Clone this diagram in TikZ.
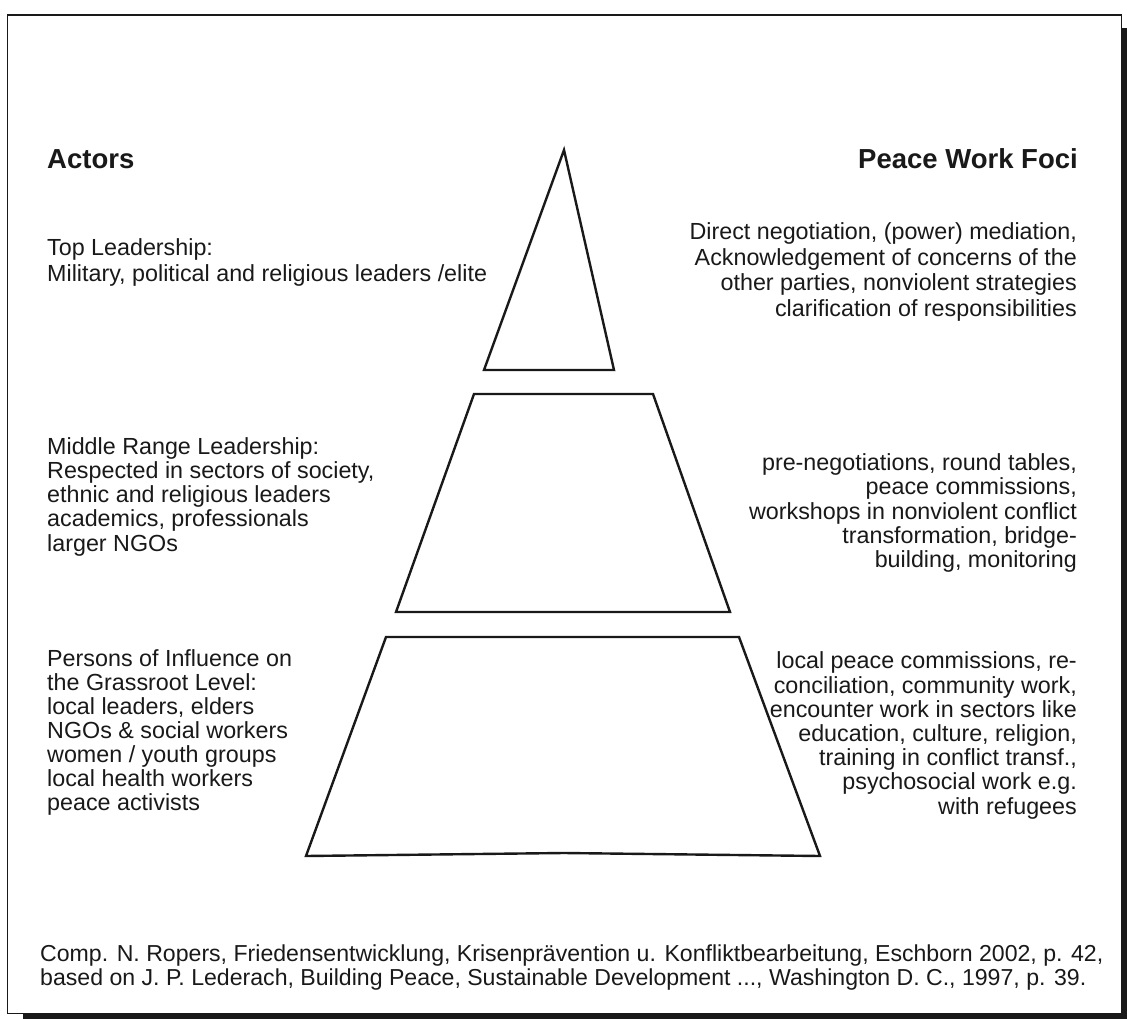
\documentclass[tikz,border=0pt]{standalone}
\usepackage{fontspec}
\setmainfont{Liberation Sans}
\begin{document}
\begin{tikzpicture}[x=1pt,y=-1pt]
  \tikzstyle{layer}=[draw=black!90,line width=2.4pt,line join=miter]
  \tikzstyle{heading}=[inner sep=0pt,text=black!90,font=\fontsize{27.5}{30}\selectfont\bfseries]
  \tikzstyle{actor}=[inner sep=0pt,anchor=base west,align=left,text=black!90,font=\fontsize{23.3}{24.2}\selectfont]
  \tikzstyle{focus}=[inner sep=0pt,anchor=base east,align=right,text=black!90,font=\fontsize{23.3}{24.2}\selectfont]
  \useasboundingbox (0,0) rectangle (1127,1019);
  \fill[black!90] (23,28) rectangle (1127,1019);
  \draw[fill=white,draw=black!90,line width=1.7pt] (7.5,15) rectangle (1121.5,1013.5);

  \draw[layer] (564,150) -- (614,370) -- (484,370) -- cycle;
  \draw[layer] (474,394) -- (653,394) -- (730,612) -- (396,612) -- cycle;
  \draw[layer] (386,637) -- (739,637) -- (820,856) -- (564,853) -- (306,856) -- cycle;

  \node[heading,anchor=base west] (actors) at (47,169) {Actors};
  \node[heading,anchor=base east] (foci) at (1078,169) {Peace Work Foci};

  \node[actor,font=\fontsize{23.3}{25.2}\selectfont] (topL) at (47,281) {Top Leadership:\\Military, political and religious leaders /elite};
  \node[focus,font=\fontsize{23.3}{25.7}\selectfont] (topR) at (1077,316.5) {Direct negotiation, (power) mediation,\\Acknowledgement of concerns of the\\other parties, nonviolent strategies\\clarification of responsibilities};

  \node[actor] (midL) at (47,551) {Middle Range Leadership:\\Respected in sectors of society,\\ethnic and religious leaders\\academics, professionals\\larger NGOs};
  \node[focus] (midR) at (1077,567.5) {pre-negotiations, round tables,\\peace commissions,\\workshops in nonviolent conflict\\transformation, bridge-\\building, monitoring};

  \node[actor,font=\fontsize{23.3}{24}\selectfont] (baseL) at (47,810) {Persons of Influence on\\the Grassroot Level:\\local leaders, elders\\NGOs \& social workers\\women / youth groups\\local health workers\\peace activists};
  \node[focus] (baseR) at (1077,814) {local peace commissions, re-\\conciliation, community work,\\encounter work in sectors like\\education, culture, religion,\\training in conflict transf.,\\psychosocial work e.g.\\with refugees};

  \node[actor,font=\fontsize{23.1}{24}\selectfont] (source) at (40,985) {Comp. N. Ropers, Friedensentwicklung, Krisenprävention u. Konfliktbearbeitung, Eschborn 2002, p. 42,\\based on J. P. Lederach, Building Peace, Sustainable Development ..., Washington D. C., 1997, p. 39.};
\end{tikzpicture}
\end{document}
